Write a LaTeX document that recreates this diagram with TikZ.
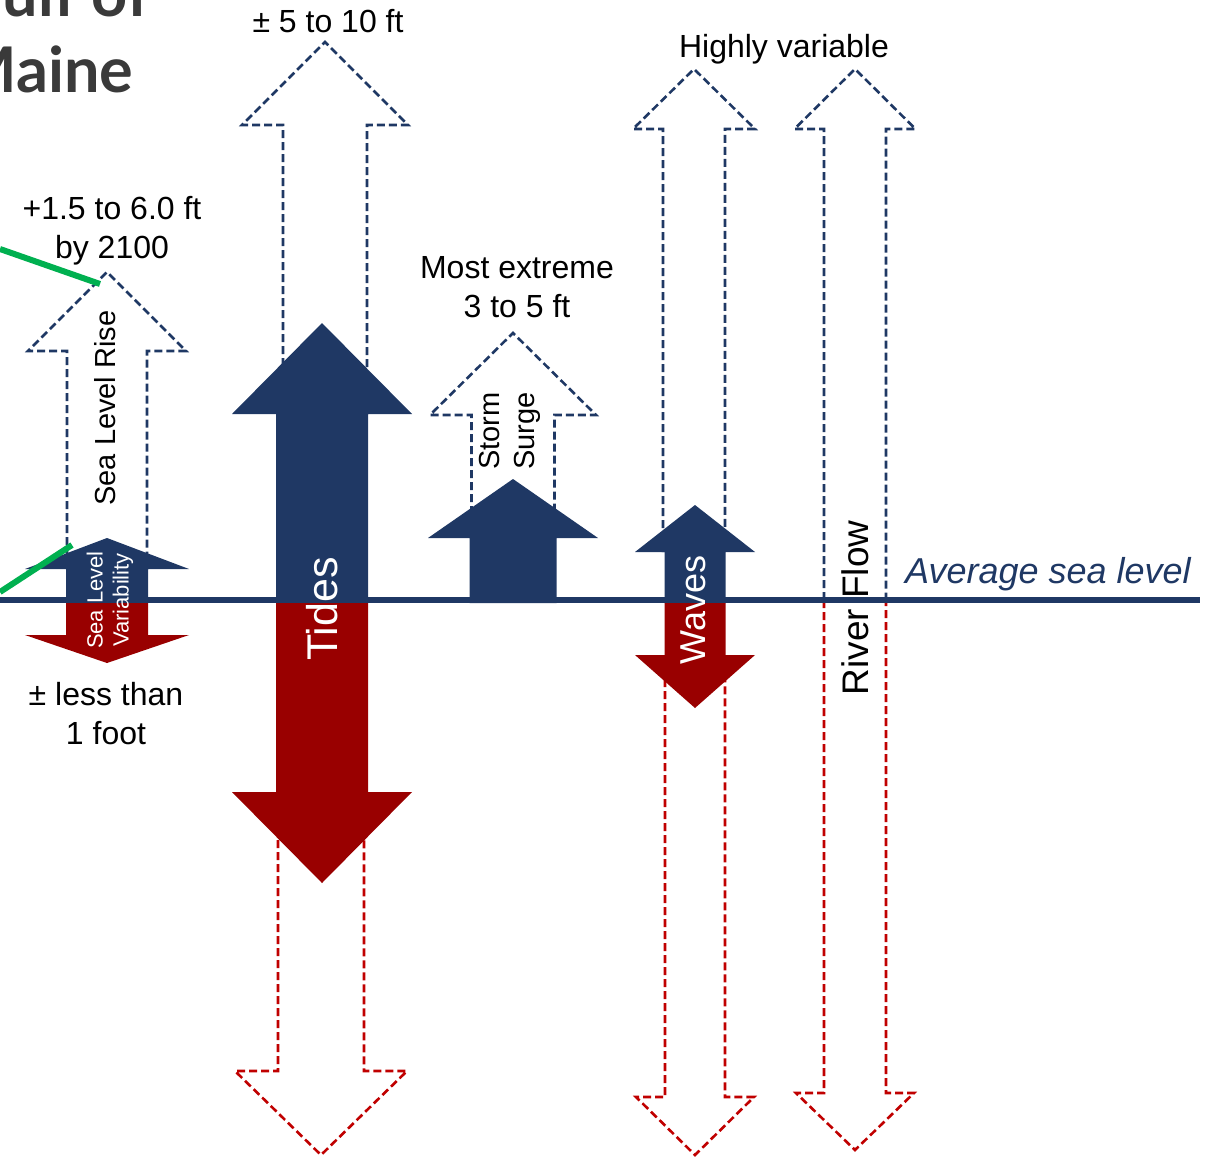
\documentclass[tikz,border=0pt]{standalone}
\usepackage{fontspec}
\setmainfont{Liberation Sans}
\newfontfamily\titlefont{Lato}
\definecolor{navy}{RGB}{31,56,100}
\definecolor{dred}{RGB}{153,0,0}
\definecolor{lred}{RGB}{192,0,0}
\definecolor{slgreen}{RGB}{0,176,80}
\definecolor{titlegray}{RGB}{58,58,58}
% #1 colour, #2 centre x, #3 tip y, #4 head base y, #5 head half width, #6 shaft half width, #7 shaft end y
\newcommand{\SolidArr}[7]{\fill[#1] ({#2-#6},#7) -- ({#2-#6},#4) -- ({#2-#5},#4) -- (#2,#3) -- ({#2+#5},#4) -- ({#2+#6},#4) -- ({#2+#6},#7) -- cycle;}
\newcommand{\DashArr}[7]{\draw[dashline,#1] ({#2-#6},#7) -- ({#2-#6},#4) -- ({#2-#5},#4) -- (#2,#3) -- ({#2+#5},#4) -- ({#2+#6},#4) -- ({#2+#6},#7);}
\tikzset{
  dashline/.style={line width=2.6pt, dash pattern=on 8pt off 4pt, line join=miter},
  lbl/.style={inner sep=0pt, font=\fontsize{32}{39}\selectfont},
  rot/.style={rotate=90, inner sep=0pt},
  greenline/.style={slgreen, line width=6pt},
}
\begin{document}
\begin{tikzpicture}[x=1pt,y=-1pt]
\useasboundingbox (0,0) rectangle (1216,1167);
\clip (0,0) rectangle (1216,1167);

% dashed outline arrows
\DashArr{navy}{107}{272}{351}{79}{40}{569}
\DashArr{navy}{325}{42}{125}{83}{42}{414}
\DashArr{navy}{513}{333}{415}{83}{41.5}{538}
\DashArr{navy}{694}{69}{129}{61}{31}{552}
\DashArr{navy}{855}{69}{129}{60.5}{31}{600}
\DashArr{lred}{321}{1155}{1071}{86}{43}{792}
\DashArr{lred}{695}{1155}{1097}{59}{30}{655}
\DashArr{lred}{855}{1150}{1093}{59}{31}{600}

% average sea level line
\coordinate (slL) at (0,600);
\coordinate (slR) at (1200,600);
\draw[navy, line width=6pt] (slL) -- (slR);

% solid arrows
\SolidArr{navy}{107}{538}{569}{82}{41}{603}
\SolidArr{dred}{107}{663}{635}{82}{41}{603}
\SolidArr{navy}{322}{323}{414}{90}{46}{603}
\SolidArr{dred}{322}{883}{792}{90}{46}{603}
\SolidArr{navy}{513}{479}{538}{85}{43.5}{603}
\SolidArr{navy}{695}{505}{552}{60}{30.5}{603}
\SolidArr{dred}{695}{708}{655}{60}{30.5}{603}

% green pointer lines
\coordinate (g1a) at (0,249);
\coordinate (g1b) at (100,284);
\coordinate (g2a) at (0,592);
\coordinate (g2b) at (72,545);
\draw[greenline] (g1a) -- (g1b);
\draw[greenline] (g2a) -- (g2b);

% title (cropped at the left and top edges, as in the reference)
\node[inner sep=0pt, anchor=south east, align=left, text=titlegray,
      font=\titlefont\bfseries\fontsize{63}{76}\selectfont] (title) at (150,93) {Gulf of\\Maine};

% labels
\node[lbl, anchor=base] (t510) at (328,32) {± 5 to 10 ft};
\node[lbl, anchor=base] (thv) at (784,57) {Highly variable};
\node[lbl, align=center] (tslr) at (112,231) {+1.5 to 6.0 ft\\by 2100};
\node[lbl, align=center] (tme) at (517,287) {Most extreme\\3 to 5 ft};
\node[lbl, align=center] (tlt) at (106,714) {± less than\\1 foot};

\node[rot, font=\fontsize{29}{35}\selectfont] (slr) at (105,408) {Sea Level Rise};
\node[rot, text=white, align=center, font=\fontsize{22}{26}\selectfont] (slv) at (110,600) {Sea Level\\Variability};
\node[rot, text=white, font=\fontsize{43}{50}\selectfont] (tides) at (322,609) {Tides};
\node[rot, align=center, font=\fontsize{29}{35}\selectfont] (ss) at (510,431) {Storm\\Surge};
\node[rot, text=white, font=\fontsize{36}{42}\selectfont] (waves) at (693,610) {Waves};
\node[rot, font=\fontsize{37}{44}\selectfont] (rf) at (855,608) {River Flow};
\node[inner sep=0pt, anchor=base west, text=navy, font=\itshape\fontsize{36}{42}\selectfont] (asl) at (905,583) {Average sea level};
\end{tikzpicture}
\end{document}
